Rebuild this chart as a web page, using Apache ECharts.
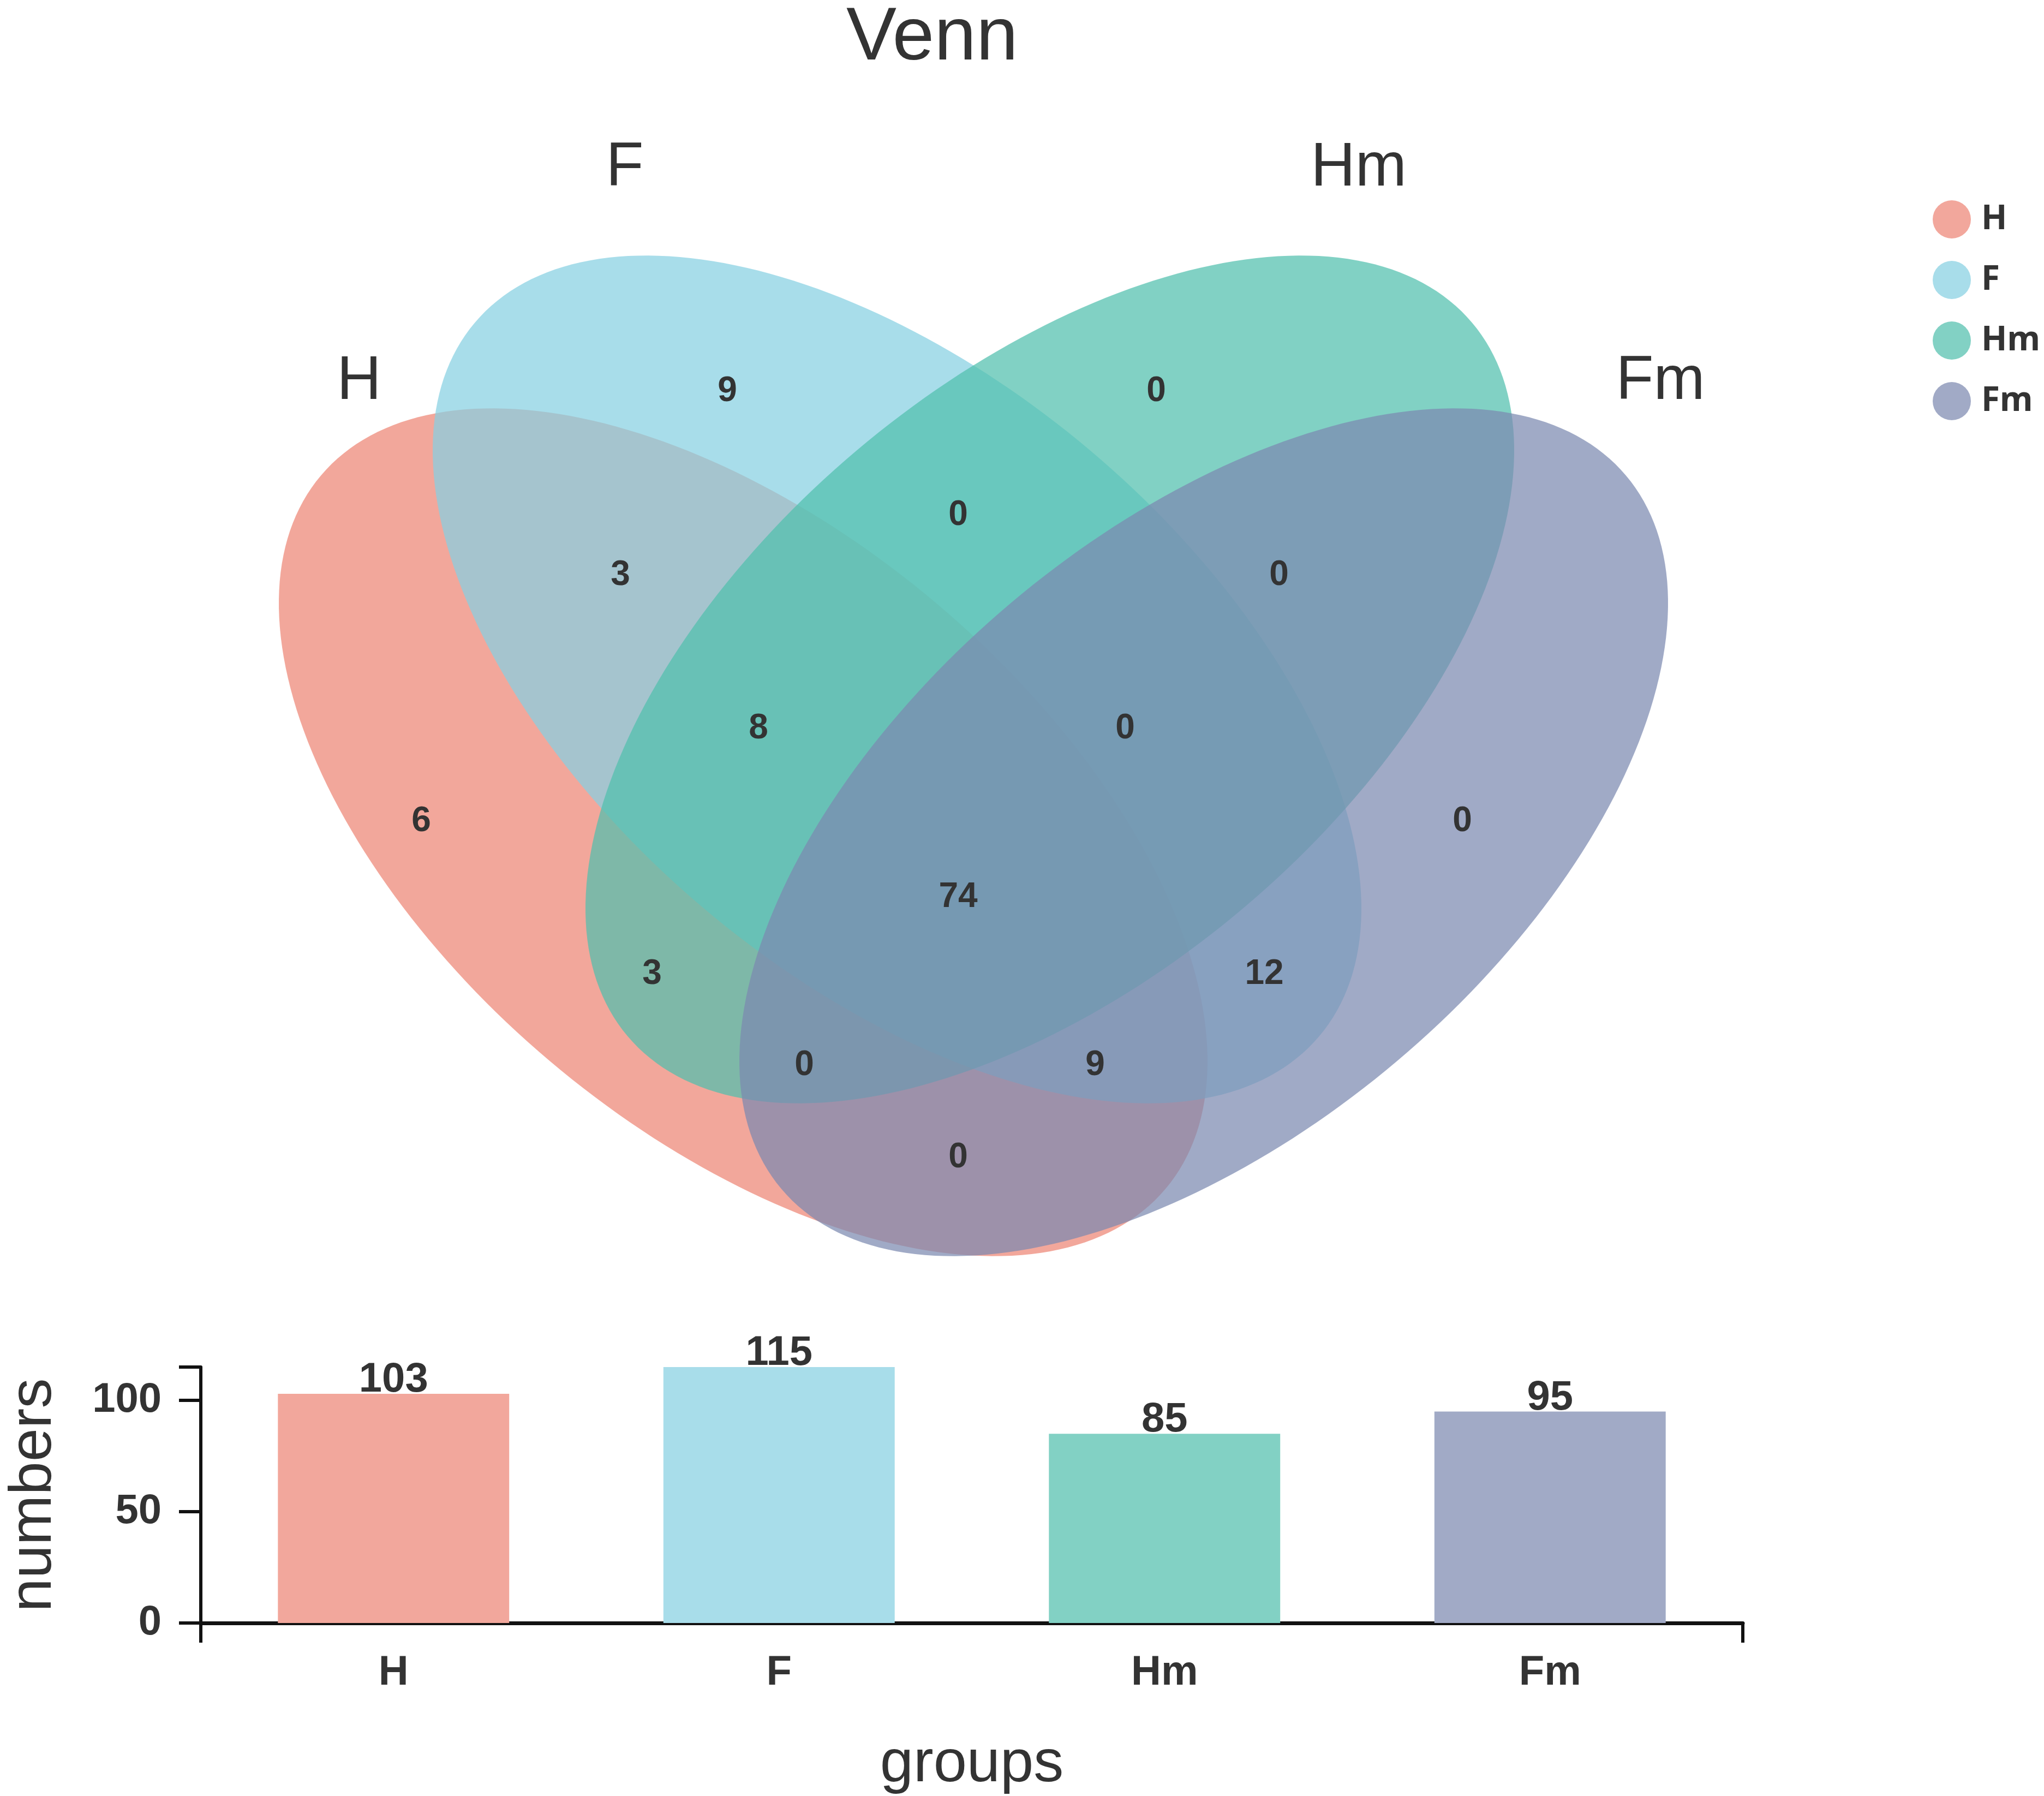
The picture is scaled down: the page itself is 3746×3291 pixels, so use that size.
<!DOCTYPE html>
<html>
<head>
<meta charset="utf-8">
<script src="https://cdn.jsdelivr.net/npm/echarts@6/dist/echarts.min.js"></script>
<style>
html,body{margin:0;padding:0;background:#fff;}
#chart{width:3746px;height:3291px;}
</style>
</head>
<body>
<div id="chart"></div>
<script>
// ---------- DATA ----------
const categories = ['H', 'F', 'Hm', 'Fm'];
const setTotals = [103, 115, 85, 95];
const yTickInterval = 50;
// Venn region counts (order matches REGION_POS below)
const regionNames = ['F only', 'Hm only', 'H&F', 'F&Hm', 'Hm&Fm', 'H&F&Hm', 'F&Hm&Fm', 'H only',
  'Fm only', 'all four', 'H&Hm', 'F&Fm', 'H&Hm&Fm', 'H&F&Fm', 'H&Fm'];
const regionCounts = [9, 0, 3, 0, 0, 8, 0, 6, 0, 74, 3, 12, 0, 9, 0];

// ---------- LAYOUT / STYLE (not data) ----------
const W = 3746, H = 3291;
const DEG = Math.PI / 180;
const ELLIPSES = [
  { cx: 1362, cy: 1525, a: 1013, b: 549, rot: 40.2 * DEG },
  { cx: 1644, cy: 1245, a: 1013, b: 549, rot: 40.2 * DEG },
  { cx: 1924, cy: 1245, a: 1013, b: 549, rot: 139.8 * DEG },
  { cx: 2206, cy: 1525, a: 1013, b: 549, rot: 139.8 * DEG }
];
const FILL = ['rgba(237,133,117,0.72)', 'rgba(134,208,226,0.72)', 'rgba(81,191,173,0.72)', 'rgba(124,137,176,0.72)'];
const SOLID = ['#F2A79C', '#A8DDEA', '#82D1C4', '#A1AAC6'];
const SET_LABEL_POS = [[658, 700], [1145, 309], [2490, 309], [3043, 700]];
const REGION_POS = [[1333, 717], [2119, 717], [1137, 1054], [1756, 944], [2344, 1054], [1390, 1335],
  [2062, 1335], [772, 1505], [2680, 1505], [1756, 1644], [1195, 1785], [2317, 1785], [1474, 1952],
  [2007, 1952], [1756, 2121]];
const FONT = 'Liberation Sans, Arial, sans-serif';

function ellipseSeries(k) {
  const e = ELLIPSES[k];
  return {
    type: 'custom',
    name: categories[k],
    coordinateSystem: 'cartesian2d',
    xAxisIndex: 2, yAxisIndex: 2,
    clip: false,
    silent: true,
    z: 2 + k,
    itemStyle: { color: SOLID[k] },
    data: [[e.cx, e.cy]],
    renderItem: function (params, api) {
      const pts = [];
      const n = 240;
      for (let i = 0; i < n; i++) {
        const t = i / n * 2 * Math.PI;
        const x = e.cx + e.a * Math.cos(t) * Math.cos(e.rot) - e.b * Math.sin(t) * Math.sin(e.rot);
        const y = e.cy + e.a * Math.cos(t) * Math.sin(e.rot) + e.b * Math.sin(t) * Math.cos(e.rot);
        pts.push(api.coord([x, y]));
      }
      return { type: 'polygon', shape: { points: pts }, style: { fill: FILL[k], stroke: null } };
    }
  };
}

const regionData = regionCounts.map((v, i) => [REGION_POS[i][0], REGION_POS[i][1], v]);
const setLabelData = categories.map((c, i) => [SET_LABEL_POS[i][0], SET_LABEL_POS[i][1], c]);

const chart = echarts.init(document.getElementById('chart'), null, { renderer: 'canvas' });
const option = {
  backgroundColor: '#ffffff',
  animation: false,
  title: {
    text: 'Venn', left: 1551, top: 2, padding: 0,
    textStyle: { fontSize: 138, fontWeight: 'normal', color: '#333', fontFamily: FONT }
  },
  legend: {
    orient: 'vertical', left: 3537, top: 362, itemWidth: 70, itemHeight: 70, itemGap: 41,
    icon: 'circle', selectedMode: false,
    data: categories.map((c, i) => ({ name: c, itemStyle: { color: SOLID[i], opacity: 1 } })),
    textStyle: { fontSize: 62, fontWeight: 'bold', color: '#333', fontFamily: 'Noto Sans, sans-serif', padding: [0, 0, 0, 14] }
  },
  grid: [
    { left: 354, width: 3194 - 354, top: 2505, height: 2974 - 2505, containLabel: false },
    { left: 0, top: 0, width: W, height: H, containLabel: false }
  ],
  xAxis: [
    {
      type: 'category', gridIndex: 0, data: categories,
      axisLine: { lineStyle: { color: '#111', width: 7 } },
      axisTick: { alignWithLabel: true, length: 36, lineStyle: { color: '#111', width: 6 } },
      axisLabel: { margin: 54, fontSize: 76, fontWeight: 'bold', color: '#333', fontFamily: FONT },
      name: 'groups', nameLocation: 'middle', nameGap: 205,
      nameTextStyle: { fontSize: 110, color: '#333', fontFamily: FONT }
    },
    {
      type: 'value', gridIndex: 0, min: 0, max: 4, interval: 4, position: 'bottom',
      axisLine: { show: false }, axisLabel: { show: false }, splitLine: { show: false },
      axisTick: { show: true, length: 36, lineStyle: { color: '#111', width: 6 } }
    },
    { type: 'value', gridIndex: 1, min: 0, max: W, show: false }
  ],
  yAxis: [
    {
      type: 'value', gridIndex: 0, min: 0, max: 115, interval: yTickInterval,
      axisLine: { show: true, lineStyle: { color: '#111', width: 6 } },
      axisTick: { show: true, length: 40, lineStyle: { color: '#111', width: 6 } },
      splitLine: { show: false },
      axisLabel: { margin: 72, fontSize: 76, fontWeight: 'bold', color: '#333', fontFamily: FONT,
        showMaxLabel: false },
      name: 'numbers', nameLocation: 'middle', nameGap: 250,
      nameTextStyle: { fontSize: 110, color: '#333', fontFamily: FONT }
    },
    {
      type: 'value', gridIndex: 0, min: 0, max: 115, interval: 115, position: 'left',
      axisLine: { show: false }, axisLabel: { show: false }, splitLine: { show: false },
      axisTick: { show: true, length: 40, lineStyle: { color: '#111', width: 6 } }
    },
    { type: 'value', gridIndex: 1, min: 0, max: H, inverse: true, show: false }
  ],
  series: [
    {
      type: 'bar', name: 'numbers', xAxisIndex: 0, yAxisIndex: 0, barWidth: '60%',
      data: setTotals.map((v, i) => ({ value: v, itemStyle: { color: SOLID[i] } })),
      label: { show: true, position: 'top', distance: -13, fontSize: 76, fontWeight: 'bold', color: '#333', fontFamily: FONT }
    },
    ellipseSeries(0), ellipseSeries(1), ellipseSeries(2), ellipseSeries(3),
    {
      type: 'custom', name: 'regions', coordinateSystem: 'cartesian2d', xAxisIndex: 2, yAxisIndex: 2,
      clip: false, silent: true, z: 10, data: regionData,
      renderItem: function (params, api) {
        const p = api.coord([api.value(0), api.value(1)]);
        return { type: 'text', x: p[0], y: p[1],
          style: { text: String(api.value(2)), fill: '#333', align: 'center', verticalAlign: 'middle',
            font: 'bold 64px ' + FONT } };
      }
    },
    {
      type: 'custom', name: 'setLabels', coordinateSystem: 'cartesian2d', xAxisIndex: 2, yAxisIndex: 2,
      clip: false, silent: true, z: 10, data: setLabelData,
      dimensions: ['x', 'y', { name: 'label', type: 'ordinal' }],
      renderItem: function (params, api) {
        const d = setLabelData[params.dataIndex];
        const p = api.coord([d[0], d[1]]);
        return { type: 'text', x: p[0], y: p[1],
          style: { text: d[2], fill: '#333', align: 'center', verticalAlign: 'middle',
            font: 'normal 113px ' + FONT } };
      }
    }
  ]
};
chart.setOption(option);
</script>
</body>
</html>
